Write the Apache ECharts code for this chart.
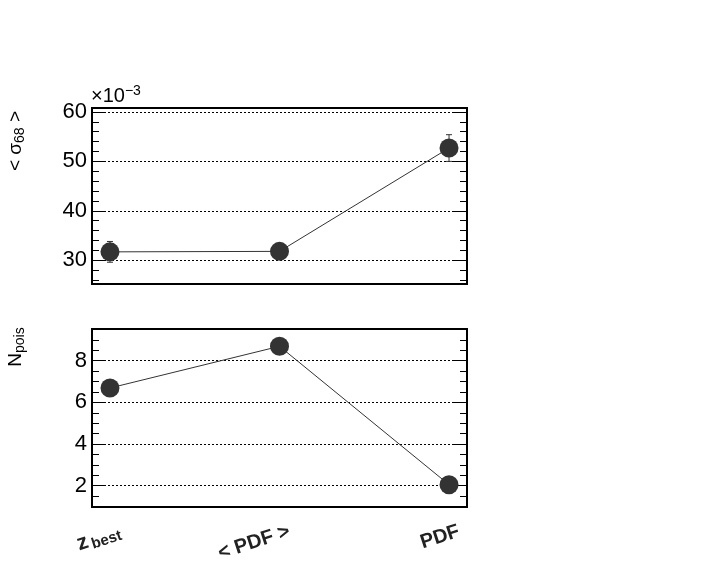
<!DOCTYPE html>
<html>
<head>
<meta charset="utf-8">
<script src="https://cdn.jsdelivr.net/npm/echarts@6/dist/echarts.min.js"></script>
<style>
  html, body { margin: 0; padding: 0; background: #fff; }
  #chart { width: 707px; height: 585px; }
</style>
</head>
<body>
<div id="chart"></div>
<script>
// estimators on the x axis (positions 0, 1, 2)
var methods = ['z_best', '< PDF >', 'PDF'];
var methodPos = [0, 1, 2];

// top panel: <sigma_68>, in units of 1e-3
var sigmaVals = [31.7, 31.8, 52.7];
var sigmaErr = [2.1, 1.5, 2.7];
var sigmaMajor = [30, 40, 50, 60];
var sigmaMinor = [26, 28, 32, 34, 36, 38, 42, 44, 46, 48, 52, 54, 56, 58, 60];

// bottom panel: N_pois
var poisVals = [6.69, 8.69, 2.05];
var poisMajor = [2, 4, 6, 8];
var poisMinor = [1, 1.5, 2.5, 3, 3.5, 4.5, 5, 5.5, 6.5, 7, 7.5, 8.5, 9, 9.5];

var FONT = 'Liberation Sans';
var INK = '#333';

var chart = echarts.init(document.getElementById('chart'));

function yAxes(grid, lo, hi, major, minor) {
    var base = {
        gridIndex: grid, type: 'value', min: lo, max: hi,
        axisLine: { show: false, onZero: false },
        splitLine: { show: false },
        axisLabel: { show: false }
    };
    return [
        Object.assign({}, base, {
            position: 'left',
            axisTick: { show: true, inside: true, length: 13, customValues: major, lineStyle: { color: '#000', width: 1 } },
            axisLabel: { show: true, customValues: major, margin: 5, fontSize: 22, fontFamily: FONT, color: '#000' },
            splitLine: { show: true, lineStyle: { color: '#000', width: 1, type: [2, 2] } }
        }),
        Object.assign({}, base, {
            position: 'left',
            axisTick: { show: true, inside: true, length: 7, customValues: minor, lineStyle: { color: '#000', width: 1 } }
        }),
        Object.assign({}, base, {
            position: 'right',
            axisTick: { show: true, inside: true, length: 13, customValues: major, lineStyle: { color: '#000', width: 1 } }
        }),
        Object.assign({}, base, {
            position: 'right',
            axisTick: { show: true, inside: true, length: 7, customValues: minor, lineStyle: { color: '#000', width: 1 } }
        })
    ];
}

function pairs(vals) {
    return vals.map(function (v, i) { return [methodPos[i], v]; });
}

function errorBars(vals, errs) {
    return vals.map(function (v, i) { return [methodPos[i], v - errs[i], v + errs[i]]; });
}

var xBase = {
    type: 'value', min: -0.106, max: 2.106, position: 'bottom',
    axisLine: { show: false, onZero: false }, axisTick: { show: false },
    axisLabel: { show: false }, splitLine: { show: false }
};

chart.setOption({
    animation: false,
    grid: [
        { left: 92, top: 108, width: 375, height: 176, show: true, borderColor: '#000', borderWidth: 2, backgroundColor: 'transparent' },
        { left: 92, top: 329, width: 375, height: 178, show: true, borderColor: '#000', borderWidth: 2, backgroundColor: 'transparent' }
    ],
    xAxis: [
        Object.assign({}, xBase, { gridIndex: 0 }),
        Object.assign({}, xBase, { gridIndex: 1 }),
        // label axis, shifted so the rotated labels sit like the original
        Object.assign({}, xBase, {
            gridIndex: 1, min: -0.165, max: 2.047,
            axisLabel: {
                show: true, customValues: methodPos, rotate: 18, margin: 24,
                fontSize: 20, fontWeight: 'bold', fontFamily: FONT, color: '#222',
                formatter: function (v) {
                    var name = methods[Math.round(v)];
                    return name === 'z_best' ? '{z|z}{sub|best}' : name;
                },
                rich: {
                    z: { fontSize: 22, fontWeight: 'bold', fontFamily: FONT, color: '#222' },
                    sub: { fontSize: 15, fontWeight: 'bold', fontFamily: FONT, color: '#222', verticalAlign: 'bottom', padding: [9, 0, 0, 3] }
                }
            }
        })
    ],
    yAxis: yAxes(0, 25.2, 60.8, sigmaMajor, sigmaMinor).concat(yAxes(1, 0.98, 9.52, poisMajor, poisMinor)),
    series: [
        {
            type: 'custom', xAxisIndex: 0, yAxisIndex: 0, z: 1,
            data: errorBars(sigmaVals, sigmaErr),
            renderItem: function (params, api) {
                var x = api.value(0);
                var lo = api.coord([x, api.value(1)]);
                var hi = api.coord([x, api.value(2)]);
                var st = { stroke: INK, lineWidth: 1 };
                return {
                    type: 'group',
                    children: [
                        { type: 'line', shape: { x1: lo[0], y1: lo[1], x2: hi[0], y2: hi[1] }, style: st },
                        { type: 'line', shape: { x1: lo[0] - 3, y1: lo[1], x2: lo[0] + 3, y2: lo[1] }, style: st },
                        { type: 'line', shape: { x1: hi[0] - 3, y1: hi[1], x2: hi[0] + 3, y2: hi[1] }, style: st }
                    ]
                };
            }
        },
        {
            type: 'line', xAxisIndex: 0, yAxisIndex: 0, z: 3,
            data: pairs(sigmaVals),
            symbol: 'circle', symbolSize: 19,
            lineStyle: { color: INK, width: 1 },
            itemStyle: { color: INK }
        },
        {
            type: 'line', xAxisIndex: 1, yAxisIndex: 4, z: 3,
            data: pairs(poisVals),
            symbol: 'circle', symbolSize: 19,
            lineStyle: { color: INK, width: 1 },
            itemStyle: { color: INK }
        }
    ],
    graphic: [
        {
            type: 'text', left: 91, top: 84,
            style: {
                text: '×10{sup|−3}', fontSize: 20, fontFamily: FONT, fill: '#000',
                rich: { sup: { fontSize: 14, fontFamily: FONT, fill: '#000', verticalAlign: 'top', padding: [0, 0, 10, 0] } }
            }
        },
        {
            type: 'text', x: 16, y: 141, rotation: Math.PI / 2,
            style: {
                text: '< σ{sub|68} >', fontSize: 19, fontFamily: FONT, fill: '#000',
                align: 'center', verticalAlign: 'middle',
                rich: { sub: { fontSize: 14, fontFamily: FONT, fill: '#000', padding: [8, 0, 0, 0] } }
            }
        },
        {
            type: 'text', x: 16, y: 347, rotation: Math.PI / 2,
            style: {
                text: 'N{sub|pois}', fontSize: 19, fontFamily: FONT, fill: '#000',
                align: 'center', verticalAlign: 'middle',
                rich: { sub: { fontSize: 14, fontFamily: FONT, fill: '#000', padding: [8, 0, 0, 0] } }
            }
        }
    ]
});
</script>
</body>
</html>
